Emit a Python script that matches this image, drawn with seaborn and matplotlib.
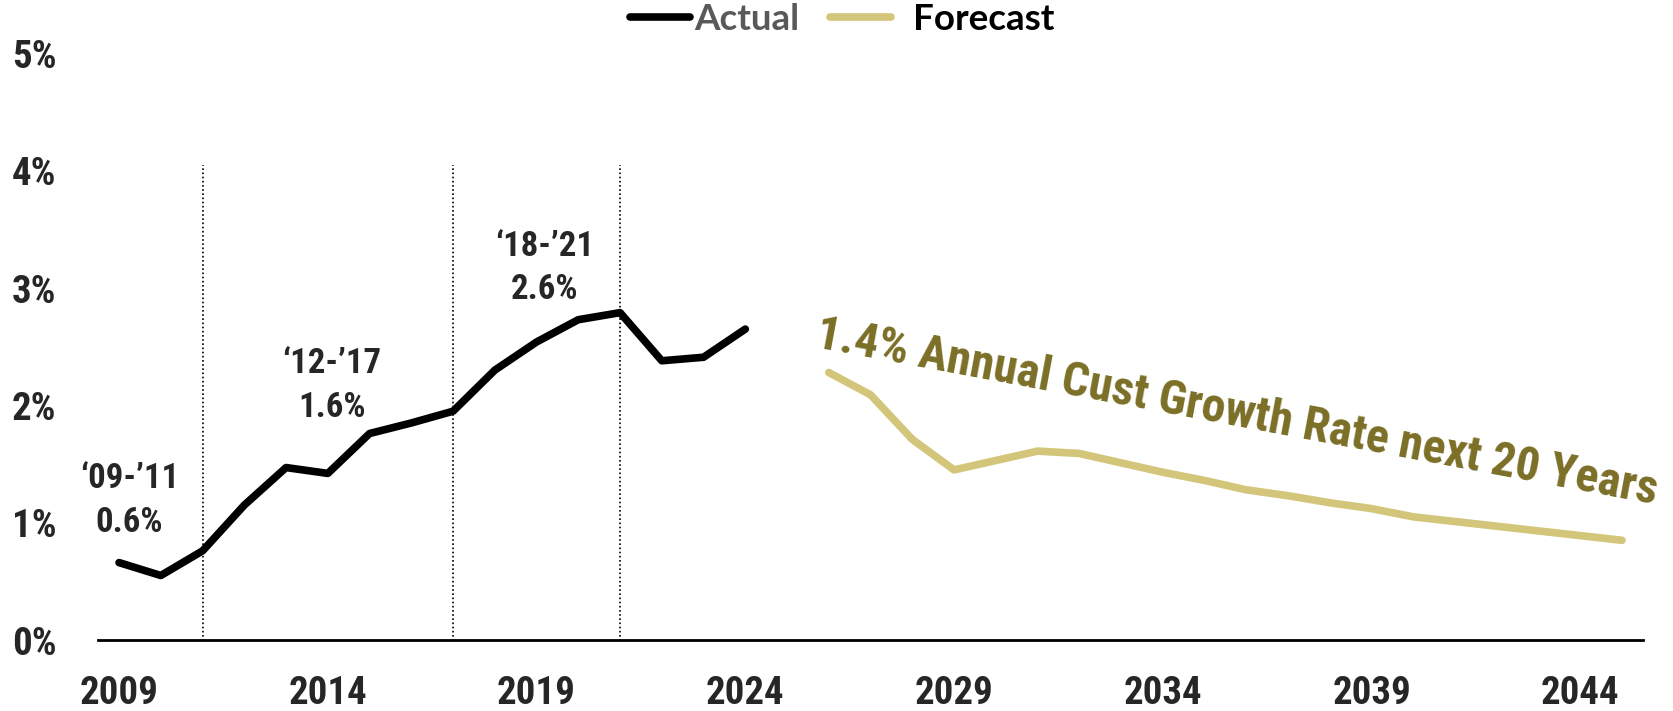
import matplotlib
matplotlib.use("Agg")
import matplotlib.pyplot as plt
from matplotlib import font_manager
from matplotlib.lines import Line2D
import pandas as pd
import seaborn as sns

sns.set_theme(style="white")

installed = {f.name for f in font_manager.fontManager.ttflist}
narrow = next(n for n in ['Arial Narrow', 'Liberation Sans Narrow', 'Roboto Condensed', 'PT Sans Narrow',
                          'Archivo Narrow', 'Barlow Semi Condensed', 'Liberation Sans'] if n in installed)
legend_font = next(n for n in ['Lato', 'Roboto', 'Open Sans', 'DejaVu Sans'] if n in installed)
plt.rcParams['font.family'] = [narrow, 'DejaVu Sans']

actual_years = list(range(2009, 2025))
actual_vals = [0.66, 0.55, 0.76, 1.15, 1.47, 1.42, 1.76, 1.85, 1.95, 2.30, 2.54, 2.73, 2.79, 2.38, 2.41, 2.65]

forecast_years = list(range(2026, 2046))
forecast_vals = [2.28, 2.09, 1.71, 1.45, 1.53, 1.61, 1.59, 1.51, 1.43, 1.36,
                 1.28, 1.23, 1.17, 1.12, 1.05, 1.01, 0.97, 0.93, 0.89, 0.85]

period_ends = [2011, 2017, 2021]
period_labels = ["\u201809-\u201911\n0.6%", "\u201812-\u201917\n1.6%", "\u201818-\u201921\n2.6%"]
label_x = [2009.25, 2014.1, 2019.2]
label_y = [1.19, 2.17, 3.17]

df = pd.concat([
    pd.DataFrame({'Year': actual_years, 'Rate': actual_vals, 'Series': 'Actual'}),
    pd.DataFrame({'Year': forecast_years, 'Rate': forecast_vals, 'Series': 'Forecast'}),
])

gold = "#D3C67A"
olive = "#7B6F27"

fig = plt.figure(figsize=(16.73, 7.11), dpi=100)
ax = fig.add_axes([0.0587, 0.0998, 0.9233, 0.8252])
sns.lineplot(data=df, x='Year', y='Rate', hue='Series', palette={'Actual': 'black', 'Forecast': gold},
             linewidth=5.5, ax=ax, legend=False, solid_capstyle='round')

for x in period_ends:
    ax.vlines(x, -0.04, 4.05, colors='black', linestyles=(0, (1, 1.5)), linewidth=1.2)

for x, y, t in zip(label_x, label_y, period_labels):
    ax.text(x, y, t, ha='center', va='center', fontsize=25, fontweight='bold', linespacing=1.4)

ax.text(2025.65, 2.5, "1.4% Annual Cust Growth Rate next 20 Years", rotation=-10.6,
        rotation_mode='anchor', ha='left', va='baseline', fontsize=34.5, fontweight='bold', color=olive)

ax.set_xlim(2008.5, 2045.5)
ax.set_ylim(0, 5)
ax.set_xticks(range(2009, 2045, 5))
ax.set_yticks(range(0, 6))
ax.set_yticklabels([f"{v}%" for v in range(0, 6)])
ax.set_xlabel('')
ax.set_ylabel('')
for s in ['top', 'right', 'left']:
    ax.spines[s].set_visible(False)
ax.spines['bottom'].set_color('black')
ax.spines['bottom'].set_linewidth(2)
ax.tick_params(axis='both', length=0, labelsize=28)
ax.tick_params(axis='y', pad=30)
ax.tick_params(axis='x', pad=25)
for lab in ax.get_xticklabels() + ax.get_yticklabels():
    lab.set_fontweight('bold')
ax.grid(False)

lprop = {'family': [legend_font, 'DejaVu Sans'], 'weight': 'bold', 'size': 26.5}
leg1 = fig.legend([Line2D([], [], color='black', linewidth=5.5, solid_capstyle='round')], ['Actual'],
                  loc='center', bbox_to_anchor=(0.427, 0.973), frameon=False, handlelength=1.65,
                  handletextpad=0.1, prop=lprop)
leg1.get_texts()[0].set_color('#595959')
leg2 = fig.legend([Line2D([], [], color=gold, linewidth=5.5, solid_capstyle='round')], ['Forecast'],
                  loc='center', bbox_to_anchor=(0.563, 0.973), frameon=False, handlelength=1.65,
                  handletextpad=0.6, prop=lprop)
leg2.get_texts()[0].set_color('black')

fig.savefig('out.png', dpi=100)
